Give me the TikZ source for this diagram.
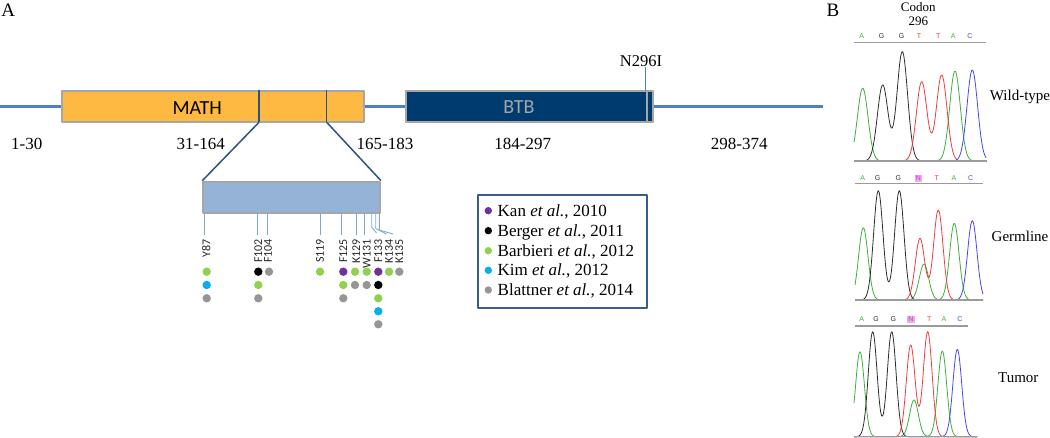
\documentclass[tikz,border=0pt]{standalone}
\usepackage{fontspec}
\setmainfont{Liberation Serif}
\newfontfamily\calibrifont{Carlito}
\newfontfamily\arialfont{Liberation Sans}
\usetikzlibrary{positioning}

\definecolor{backblue}{RGB}{79,129,189}
\definecolor{mathorange}{RGB}{253,185,65}
\definecolor{btbnavy}{RGB}{0,59,111}
\definecolor{boxgray}{RGB}{166,166,166}
\definecolor{zoomblue}{RGB}{44,82,130}
\definecolor{insertblue}{RGB}{149,179,215}
\definecolor{kanpurple}{RGB}{112,48,160}
\definecolor{barbierigreen}{RGB}{146,208,80}
\definecolor{kimblue}{RGB}{0,176,240}
\definecolor{blattnergray}{RGB}{150,150,150}
\definecolor{legendframe}{RGB}{56,93,138}
\definecolor{traceA}{RGB}{60,175,60}
\definecolor{traceG}{RGB}{45,45,45}
\definecolor{traceT}{RGB}{240,60,60}
\definecolor{traceC}{RGB}{70,70,240}
\definecolor{basegray}{RGB}{155,155,155}
\definecolor{nmagenta}{RGB}{220,40,220}
\definecolor{nbox}{RGB}{232,175,232}

% one peak of a trace, width \sg
\newcommand{\pk}[2]{#2*exp(max(-0.5*((\x-#1)/\sg)^2,-12))}

\tikzset{
  backbone/.style={draw=backblue, line width=3.5pt},
  dombox/.style={rectangle, draw=boxgray, line width=2pt, inner sep=0pt},
  zoomline/.style={draw=zoomblue, line width=1.5pt},
  mutline/.style={draw=insertblue!75!backblue, line width=0.9pt},
  mutlabel/.style={font=\calibrifont\fontsize{12}{12}\selectfont, text=black!85, rotate=90, anchor=east, inner sep=1pt},
  rangelabel/.style={font=\fontsize{17}{17}\selectfont, inner sep=0pt},
  legendtext/.style={font=\fontsize{17}{17}\selectfont, anchor=base west, inner sep=0pt},
  baselabel/.style={font=\arialfont\fontsize{7}{7}\selectfont, inner sep=1pt},
  chromlabel/.style={font=\fontsize{15}{15}\selectfont, anchor=base, inner sep=0pt},
  trace/.style={line width=0.8pt},
  baseline/.style={draw=basegray, line width=1.5pt}
}

\begin{document}
\begin{tikzpicture}[x=1pt, y=-1pt, line join=round]
\useasboundingbox (0,0) rectangle (1050,438);

% Panel letters
\node[font=\fontsize{19}{19}\selectfont, inner sep=0pt] (panelA) at (8.3,10) {A};
\node[font=\fontsize{19}{19}\selectfont, inner sep=0pt] (panelB) at (833,10) {B};

% Protein backbone
\coordinate (nterm) at (0,106.5);
\coordinate (cterm) at (822.7,106.5);
\draw[backbone] (nterm) -- (cterm);

% MATH domain
\node[dombox, fill=mathorange, minimum width=301.7, minimum height=31.6] (math) at (213.15,106.5) {};
\node[font=\calibrifont\fontsize{20}{20}\selectfont, inner sep=0pt] (mathtext) at (197.2,108) {MATH};
\coordinate (cutl) at (259,122.3);
\coordinate (cutr) at (326.7,122.3);
\draw[zoomline] (cutl |- math.north) -- (cutl);
\draw[zoomline] (cutr |- math.north) -- (cutr);

% BTB domain
\node[dombox, fill=btbnavy, minimum width=246.7, minimum height=31.6] (btb) at (529.35,106.5) {};
\node[font=\calibrifont\fontsize{20}{20}\selectfont, text=boxgray, inner sep=0pt] (btbtext) at (519,107.5) {BTB};
\draw[draw=boxgray, line width=2pt] (646.7,90.7) -- (646.7,122.3);

% N296I position
\node[font=\fontsize{16.5}{16.5}\selectfont, inner sep=0pt] (n296i) at (641,61) {N296I};
\coordinate (pin) at (645.5,90.7);
\draw[draw=backblue, line width=0.8pt] (pin) -- (pin |- n296i.south);

% Residue ranges
\node[rangelabel] (r1) at (26.7,143.5) {1-30};
\node[rangelabel] (r2) at (200.7,143.5) {31-164};
\node[rangelabel] (r3) at (385,143.5) {165-183};
\node[rangelabel] (r4) at (522.7,143.5) {184-297};
\node[rangelabel] (r5) at (739.3,143.5) {298-374};

% Zoomed region of MATH
\node[dombox, fill=insertblue, minimum width=176.7, minimum height=31.3] (insert) at (291.65,197.35) {};
\draw[zoomline] (cutl) -- (insert.north west);
\draw[zoomline] (cutr) -- (insert.north east);

% Mutation labels
\node[mutlabel] (y87) at (206.3,238) {Y87};
\node[mutlabel] (f102) at (258.3,238) {F102};
\node[mutlabel] (f104) at (268,238) {F104};
\node[mutlabel] (s119) at (320,238) {S119};
\node[mutlabel] (f125) at (343.3,238) {F125};
\node[mutlabel] (k129) at (356.3,238) {K129};
\node[mutlabel] (w131) at (366.7,238) {W131};
\node[mutlabel] (f133) at (378.3,238) {F133};
\node[mutlabel] (k134) at (389,238) {K134};
\node[mutlabel] (k135) at (399.3,238) {K135};

% Mutation ticks
\draw[mutline, shorten >=3pt] (204.3,213) coordinate (y87top) -- (y87top |- y87.east);
\draw[mutline, shorten >=3pt] (257.7,213) coordinate (f102top) -- (f102top |- f102.east);
\draw[mutline, shorten >=3pt] (267.3,213) coordinate (f104top) -- (f104top |- f104.east);
\draw[mutline, shorten >=3pt] (320,213) coordinate (s119top) -- (s119top |- s119.east);
\draw[mutline, shorten >=3pt] (341.7,213) coordinate (f125top) -- (f125top |- f125.east);
\draw[mutline, shorten >=3pt] (356.7,213) coordinate (k129top) -- (k129top |- k129.east);
\draw[mutline, shorten >=3pt] (364.3,213) coordinate (w131top) -- (w131top |- w131.east);
\draw[mutline] (371.7,213) coordinate (f133top) -- (371.7,227) -- (376.5,233);
\draw[mutline] (375.7,213) coordinate (k134top) -- (375.7,228.5) -- (386.5,234);
\draw[mutline] (379.3,213) coordinate (k135top) -- (379.3,230) -- (393,234);

% Mutation reports
\fill[barbierigreen] (206.7,271.7) circle[radius=4.2];
\fill[kimblue] (206.7,285) circle[radius=4.2];
\fill[blattnergray] (206.7,298.3) circle[radius=4.2];
\fill[black] (258.3,271.7) circle[radius=4.2];
\fill[barbierigreen] (258.3,285) circle[radius=4.2];
\fill[blattnergray] (258.3,298.3) circle[radius=4.2];
\fill[blattnergray] (269,271.7) circle[radius=4.2];
\fill[barbierigreen] (320,271.7) circle[radius=4.2];
\fill[kanpurple] (343.3,271.7) circle[radius=4.2];
\fill[barbierigreen] (343.3,285) circle[radius=4.2];
\fill[blattnergray] (343.3,298.3) circle[radius=4.2];
\fill[barbierigreen] (355,271.7) circle[radius=4.2];
\fill[blattnergray] (355,285) circle[radius=4.2];
\fill[barbierigreen] (366.7,271.7) circle[radius=4.2];
\fill[blattnergray] (366.7,285) circle[radius=4.2];
\fill[kanpurple] (378.3,271.7) circle[radius=4.2];
\fill[black] (378.3,285) circle[radius=4.2];
\fill[barbierigreen] (378.3,298.3) circle[radius=4.2];
\fill[kimblue] (378.3,311.3) circle[radius=4.2];
\fill[blattnergray] (378.3,324.3) circle[radius=4.2];
\fill[barbierigreen] (389,271.7) circle[radius=4.2];
\fill[blattnergray] (399.3,271.7) circle[radius=4.2];

% Legend
\node[rectangle, draw=legendframe, line width=2pt, minimum width=168.4, minimum height=113.3, inner sep=0pt] (legend) at (562.5,251.7) {};
\fill[kanpurple] (488.3,210.7) circle[radius=3.7];
\fill[black] (488.3,230.7) circle[radius=3.7];
\fill[barbierigreen] (488.3,250.7) circle[radius=3.7];
\fill[kimblue] (488.3,270.3) circle[radius=3.7];
\fill[blattnergray] (488.3,290) circle[radius=3.7];
\node[legendtext] (kan) at (497.5,216.3) {Kan \textit{et al.}, 2010};
\node[legendtext] (berger) at (497.5,236.3) {Berger \textit{et al.}, 2011};
\node[legendtext] (barbieri) at (497.5,256.3) {Barbieri \textit{et al.}, 2012};
\node[legendtext] (kim) at (497.5,275.9) {Kim \textit{et al.}, 2012};
\node[legendtext] (blattner) at (497.5,295.6) {Blattner \textit{et al.,} 2014};

% Codon header
\node[font=\fontsize{13}{13}\selectfont, inner sep=0pt] (codon) at (918.3,7) {Codon};
\node[font=\fontsize{13}{13}\selectfont, inner sep=0pt] (codonnum) at (918.3,21.7) {296};

% Wild-type trace
\node[baselabel, text=traceA] (wA1) at (861.7,35.7) {A};
\node[baselabel, text=traceG] (wG1) at (881.7,35.7) {G};
\node[baselabel, text=traceG] (wG2) at (901.7,35.7) {G};
\node[baselabel, text=traceT] (wT1) at (919,35.7) {T};
\node[baselabel, text=traceT] (wT2) at (938.3,35.7) {T};
\node[baselabel, text=traceA] (wA2) at (953.3,35.7) {A};
\node[baselabel, text=traceC] (wC1) at (970,35.7) {C};
\draw[baseline] (854,42.3) -- (985.7,42.3);
\def\sg{5.3}
\draw[trace, traceA] plot[domain=854:986, samples=160, smooth] (\x, {161-\pk{862.7}{72.7}-\pk{955}{90}});
\draw[trace, traceG] plot[domain=854:986, samples=160, smooth] (\x, {161-\pk{882.7}{76}-\pk{902.3}{109.3}});
\draw[trace, traceT] plot[domain=854:986, samples=160, smooth] (\x, {161-\pk{921.7}{79.3}-\pk{941.7}{86}});
\draw[trace, traceC] plot[domain=854:986, samples=160, smooth] (\x, {161-\pk{972.3}{91}});
\draw[baseline] (854,161) -- (986.7,161);
\node[chromlabel] (wildtype) at (1020,101) {Wild-type};

% Germline trace
\node[baselabel, text=traceA] (gA1) at (862.7,178.3) {A};
\node[baselabel, text=traceG] (gG1) at (877.7,178.3) {G};
\node[baselabel, text=traceG] (gG2) at (898.3,178.3) {G};
\node[baselabel, fill=nbox, text=nmagenta] (gN) at (918.3,178.3) {N};
\node[baselabel, text=traceT] (gT1) at (936.7,178.3) {T};
\node[baselabel, text=traceA] (gA2) at (954,178.3) {A};
\node[baselabel, text=traceC] (gC1) at (970.7,178.3) {C};
\draw[baseline] (855,183.7) -- (983.3,183.7);
\def\sg{4.7}
\draw[trace, traceA] plot[domain=855:983, samples=160, smooth] (\x, {300-\pk{863.3}{72.3}-\pk{924}{36}-\pk{954.3}{76.7}});
\draw[trace, traceG] plot[domain=855:983, samples=160, smooth] (\x, {300-\pk{878.3}{109.3}-\pk{899.3}{109.3}});
\draw[trace, traceT] plot[domain=855:983, samples=160, smooth] (\x, {300-\pk{920}{61.7}-\pk{938.3}{90}});
\draw[trace, traceC] plot[domain=855:983, samples=160, smooth] (\x, {300-\pk{972.3}{79.3}});
\draw[baseline] (855,300) -- (983.3,300);
\node[chromlabel] (germline) at (1020,241.3) {Germline};

% Tumor trace
\node[baselabel, text=traceA] (tA1) at (861.7,319.3) {A};
\node[baselabel, text=traceG] (tG1) at (876,319.3) {G};
\node[baselabel, text=traceG] (tG2) at (893.3,319.3) {G};
\node[baselabel, fill=nbox, text=nmagenta] (tN) at (911,319.3) {N};
\node[baselabel, text=traceT] (tT1) at (929.3,319.3) {T};
\node[baselabel, text=traceA] (tA2) at (944,319.3) {A};
\node[baselabel, text=traceC] (tC1) at (960,319.3) {C};
\draw[baseline] (855,326) -- (968.3,326);
\def\sg{4.4}
\draw[trace, traceA] plot[domain=854:977, samples=160, smooth] (\x, {436.7-\pk{860}{85}-\pk{914}{36.7}-\pk{942.3}{85.7}});
\draw[trace, traceG] plot[domain=854:977, samples=160, smooth] (\x, {436.7-\pk{872.7}{105}-\pk{891.7}{105}});
\draw[trace, traceT] plot[domain=854:977, samples=160, smooth] (\x, {436.7-\pk{910.7}{91.7}-\pk{927.7}{105}});
\draw[trace, traceC] plot[domain=854:977, samples=160, smooth] (\x, {436.7-\pk{957.3}{87.4}});
\draw[baseline] (854,436.7) -- (976.7,436.7);
\node[chromlabel] (tumor) at (1018.3,382.6) {Tumor};
\end{tikzpicture}
\end{document}
